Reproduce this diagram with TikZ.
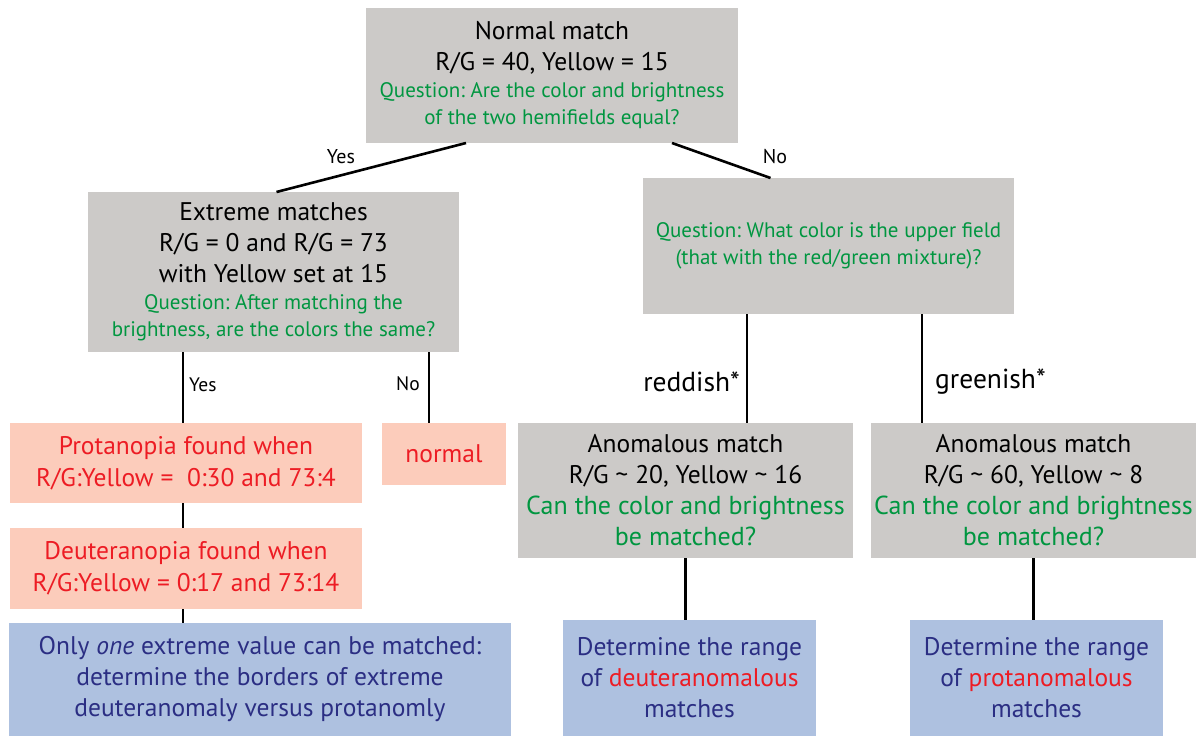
\documentclass[tikz,border=0pt]{standalone}
\usepackage{fontspec}
\setmainfont{PT Sans}
\definecolor{boxgray}{RGB}{204,202,200}
\definecolor{boxsalmon}{RGB}{252,204,187}
\definecolor{boxblue}{RGB}{174,193,224}
\definecolor{qgreen}{RGB}{0,150,64}
\definecolor{hired}{RGB}{237,28,36}
\definecolor{navy}{RGB}{43,46,131}
\tikzset{
  box/.style = {rectangle, inner sep=0pt, outer sep=0pt,
                align=center, text width=#1},
  graybox/.style = {box=#1, fill=boxgray},
  salmonbox/.style = {box=#1, fill=boxsalmon, text=hired},
  bluebox/.style = {box=#1, fill=boxblue, text=navy},
  link/.style = {line width=2.6pt},
  lbl/.style = {inner sep=0pt, font=\fontsize{19.5}{22}\selectfont}
}
\def\wsp{\spaceskip=0.27em\relax}
\def\mainsize{\fontsize{25.5}{31}\selectfont\wsp}
\def\qsize{\fontsize{21}{27}\selectfont\wsp}
\def\redsize{\fontsize{25.5}{32}\selectfont\wsp}
\def\bluesize{\fontsize{25.5}{31}\selectfont\wsp}
\frenchspacing

\begin{document}
\begin{tikzpicture}[x=1pt,y=-1pt]
	\useasboundingbox (0,0) rectangle (1196,736);

	% Top question
	\node[graybox=372pt, minimum height=135pt] (top) at (552,75.5)
		{{\mainsize Normal match\\ R/G = 40, Yellow = 15\par}
		 {\qsize\color{qgreen} Question: Are the color and brightness\\ of the two hemifields equal?\par}};

	% Yes branch
	\node[graybox=371pt, minimum height=160pt] (ext) at (273.5,272)
		{{\mainsize Extreme matches\\ R/G = 0 and R/G = 73\\ with Yellow set at 15\par}
		 {\qsize\color{qgreen} Question: After matching the\\ brightness, are the colors the same?\par}};
	\node[salmonbox=352pt, minimum height=80pt] (prot) at (186,463)
		{\redsize Protanopia found when\\ R/G:Yellow =~ 0:30 and 73:4\par};
	\node[salmonbox=124pt, minimum height=62pt] (normal) at (444,454)
		{\redsize normal\par};
	\node[salmonbox=352pt, minimum height=81pt] (deut) at (186,568.5)
		{\redsize Deuteranopia found when\\ R/G:Yellow = 0:17 and 73:14\par};
	\node[bluebox=502pt, minimum height=113pt] (only) at (260,679.5)
		{\bluesize Only \textit{one} extreme value can be matched:\\
		 determine the borders of extreme\\ deuteranomaly versus protanomly\par};

	% No branch
	\node[graybox=371pt, minimum height=136pt] (qbox) at (828.5,246)
		{\qsize\color{qgreen} Question: What color is the upper field\\ (that with the red/green mixture)?\par};
	\node[graybox=335pt, minimum height=135pt] (anomL) at (685.5,490.5)
		{{\mainsize Anomalous match\\ R/G {\char`~} 20, Yellow {\char`~} 16\par}
		 {\color{qgreen}\fontsize{26}{31}\selectfont\wsp Can the color and brightness\\ be matched?\par}};
	\node[graybox=325pt, minimum height=135pt] (anomR) at (1033.5,490.5)
		{{\mainsize Anomalous match\\ R/G {\char`~} 60, Yellow {\char`~} 8\par}
		 {\color{qgreen}\fontsize{26}{31}\selectfont\wsp Can the color and brightness\\ be matched?\par}};
	\node[bluebox=253pt, minimum height=116pt] (detL) at (689.5,678)
		{\bluesize Determine the range\\ of \textcolor{hired}{deuteranomalous}\\ matches\par};
	\node[bluebox=253pt, minimum height=116pt] (detR) at (1036.5,678)
		{\bluesize Determine the range\\ of \textcolor{hired}{protanomalous}\\ matches\par};

	% Connectors
	\draw[link] ([xshift=-86pt]top.south) -- ([xshift=3pt]ext.north);
	\draw[link] ([xshift=120pt]top.south) -- ([xshift=-58pt]qbox.north);
	\node[lbl, font=\fontsize{20}{22}\selectfont] (yes1) at (341,157) {Yes};
	\node[lbl, font=\fontsize{20}{22}\selectfont] (no1) at (775,157) {No};

	\draw[link] ([xshift=-3pt]prot.north |- ext.south) -- ([xshift=-3pt]prot.north);
	\draw[link] ([xshift=-15pt]normal.north |- ext.south) -- ([xshift=-15pt]normal.north);
	\draw[link] ([xshift=-3pt]prot.south) -- ([xshift=-3pt]deut.north);
	\draw[link] ([xshift=-3pt]deut.south) -- ([xshift=-3pt]deut.south |- only.north);
	\node[lbl, anchor=west] (yes2) at (189,385) {Yes};
	\node[lbl, anchor=east] (no2) at (420,384) {No};

	\draw[link] ([xshift=61.5pt]anomL.north |- qbox.south) -- ([xshift=61.5pt]anomL.north);
	\draw[link] ([xshift=-111.5pt]anomR.north |- qbox.south) -- ([xshift=-111.5pt]anomR.north);
	\node[lbl, anchor=east, font=\fontsize{27.5}{30}\selectfont] (red) at (740,382) {reddish*};
	\node[lbl, anchor=west, font=\fontsize{27.5}{30}\selectfont] (green) at (935,382) {greenish*};

	\draw[link] (anomL.south) -- (anomL.south |- detL.north);
	\draw[link] (anomR.south) -- (anomR.south |- detR.north);

\end{tikzpicture}
\end{document}
